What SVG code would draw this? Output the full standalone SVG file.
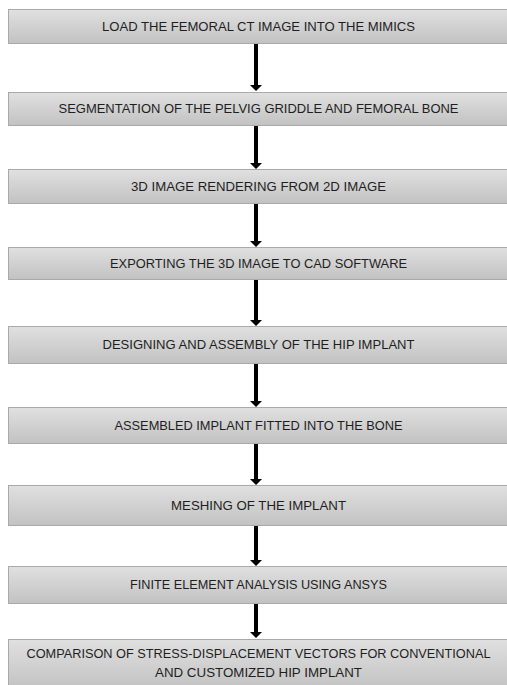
<svg xmlns="http://www.w3.org/2000/svg" width="507" height="685" viewBox="0 0 507 685">
<defs>
<linearGradient id="g" x1="0" y1="0" x2="0" y2="1">
<stop offset="0" stop-color="#e0e0e0"/>
<stop offset="1" stop-color="#c2c2c2"/>
</linearGradient>
</defs>
<style>
.box{fill:url(#g);stroke:#a9a9a9;stroke-width:1}
.t{font-family:"Liberation Sans",Arial,sans-serif;font-size:12.6px;fill:#1e1e1e;text-anchor:middle}
.sh{fill:#000}
</style>
<rect width="507" height="685" fill="#fff"/>
<g id="connectors">
<path class="sh" d="M254 43h4v42h4l-6 6l-6-6h4z"/>
<path class="sh" d="M254 125h4v38h4l-6 6l-6-6h4z"/>
<path class="sh" d="M254 203h4v38h4l-6 6l-6-6h4z"/>
<path class="sh" d="M254 279h4v41h4l-6 6l-6-6h4z"/>
<path class="sh" d="M254 363h4v38h4l-6 6l-6-6h4z"/>
<path class="sh" d="M254 443h4v36h4l-6 6l-6-6h4z"/>
<path class="sh" d="M254 525h4v35h4l-6 6l-6-6h4z"/>
<path class="sh" d="M254 603h4v29h4l-6 6l-6-6h4z"/>
</g>
<g id="n1"><rect class="box" x="8.5" y="9.5" width="501" height="34"/><text class="t" x="258.5" y="30.5" textLength="313" lengthAdjust="spacingAndGlyphs">LOAD THE FEMORAL CT IMAGE INTO THE MIMICS</text></g>
<g id="n2"><rect class="box" x="8.5" y="92.5" width="501" height="33"/><text class="t" x="258.5" y="113" textLength="400" lengthAdjust="spacingAndGlyphs">SEGMENTATION OF THE PELVIG GRIDDLE AND FEMORAL BONE</text></g>
<g id="n3"><rect class="box" x="8.5" y="169.5" width="501" height="34"/><text class="t" x="258.5" y="190.5" textLength="255" lengthAdjust="spacingAndGlyphs">3D IMAGE RENDERING FROM 2D IMAGE</text></g>
<g id="n4"><rect class="box" x="8.5" y="247.5" width="501" height="32"/><text class="t" x="258.5" y="267.5" textLength="297" lengthAdjust="spacingAndGlyphs">EXPORTING THE 3D IMAGE TO CAD SOFTWARE</text></g>
<g id="n5"><rect class="box" x="8.5" y="326.5" width="501" height="37"/><text class="t" x="258.5" y="349" textLength="312" lengthAdjust="spacingAndGlyphs">DESIGNING AND ASSEMBLY OF THE HIP IMPLANT</text></g>
<g id="n6"><rect class="box" x="8.5" y="407.5" width="501" height="36"/><text class="t" x="258.5" y="429.5" textLength="288" lengthAdjust="spacingAndGlyphs">ASSEMBLED IMPLANT FITTED INTO THE BONE</text></g>
<g id="n7"><rect class="box" x="8.5" y="485.5" width="501" height="40"/><text class="t" x="258.5" y="509.5" textLength="175" lengthAdjust="spacingAndGlyphs">MESHING OF THE IMPLANT</text></g>
<g id="n8"><rect class="box" x="8.5" y="566.5" width="501" height="37"/><text class="t" x="258.5" y="589" textLength="257" lengthAdjust="spacingAndGlyphs">FINITE ELEMENT ANALYSIS USING ANSYS</text></g>
<g id="n9"><rect class="box" x="8.5" y="639.5" width="501" height="50"/><text class="t" x="258.5" y="657.5" textLength="464" lengthAdjust="spacingAndGlyphs">COMPARISON OF STRESS-DISPLACEMENT VECTORS FOR CONVENTIONAL</text><text class="t" x="258.5" y="676.5" textLength="207" lengthAdjust="spacingAndGlyphs">AND CUSTOMIZED HIP IMPLANT</text></g>
</svg>
